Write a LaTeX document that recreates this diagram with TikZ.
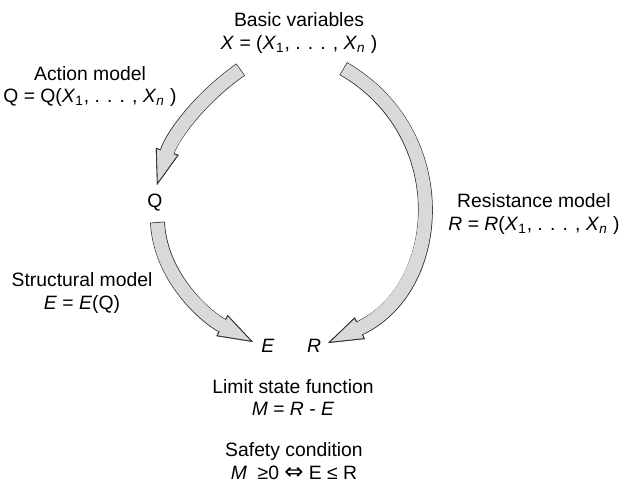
\documentclass[tikz,border=0pt]{standalone}
\usepackage{fontspec}
\setmainfont{Liberation Sans}
\newfontfamily\symfont{DejaVu Sans}
\usetikzlibrary{arrows.meta}

\begin{document}
\begin{tikzpicture}[x=0.02cm,y=0.02cm,
  label node/.style={align=center,inner sep=0pt,font=\fontsize{11}{13}\selectfont},
  block arrow/.style={draw=black!15,line width=7.4pt,
    -{Triangle[length=20pt,width=13.5pt,line width=0.5pt,color=black!80,fill=black!15]},
    preaction={draw=black!80,line width=8.4pt,shorten <=-0.5pt},
    postaction={draw=black!15,line width=7.4pt,-,shorten >=18pt}}]

  \useasboundingbox (0,0) rectangle (619,483);

  \node[label node] (basic) at (299,450) {Basic variables\\\textit{X} = (\textit{X}\textsubscript{1}, . . . , \textit{X}\textsubscript{\textit{n}} )};
  \node[label node] (action) at (90,396.5) {Action model\\Q = Q(\textit{X}\textsubscript{1}, . . . , \textit{X}\textsubscript{\textit{n}} )};
  \node[label node] (resist) at (534,269) {Resistance model\\\textit{R} = \textit{R}(\textit{X}\textsubscript{1}, . . . , \textit{X}\textsubscript{\textit{n}} )};
  \node[label node] (struct) at (82,190) {Structural model\\\textit{E} = \textit{E}(Q)};
  \node[label node] (limit) at (293,85.5) {Limit state function\\\textit{M} = \textit{R} - \textit{E}};
  \node[label node] (safety) at (294,21.5) {Safety condition\\\textit{M}\ \ ≥0 {\symfont\fontsize{13}{13}\selectfont ⇔} E ≤ R};

  \node[label node] (Q) at (155,280) {Q};
  \node[label node] (E) at (268,137) {\textit{E}};
  \node[label node] (R) at (314,137) {\textit{R}};

  % arrow ends
  \coordinate (basic-l) at (240,413);
  \coordinate (basic-r) at (344,414);
  \coordinate (Q-in) at (157,298);
  \coordinate (Q-out) at (157.5,260);
  \coordinate (E-in) at (253,141);
  \coordinate (R-in) at (328,140);

  \draw[block arrow] (basic-l) to[out=215,in=73,looseness=0.9] (Q-in);
  \draw[block arrow] (basic-r) to[out=-30,in=25,looseness=1.2] (R-in);
  \draw[block arrow] (Q-out) to[out=273,in=152,looseness=0.91] (E-in);
\end{tikzpicture}
\end{document}
